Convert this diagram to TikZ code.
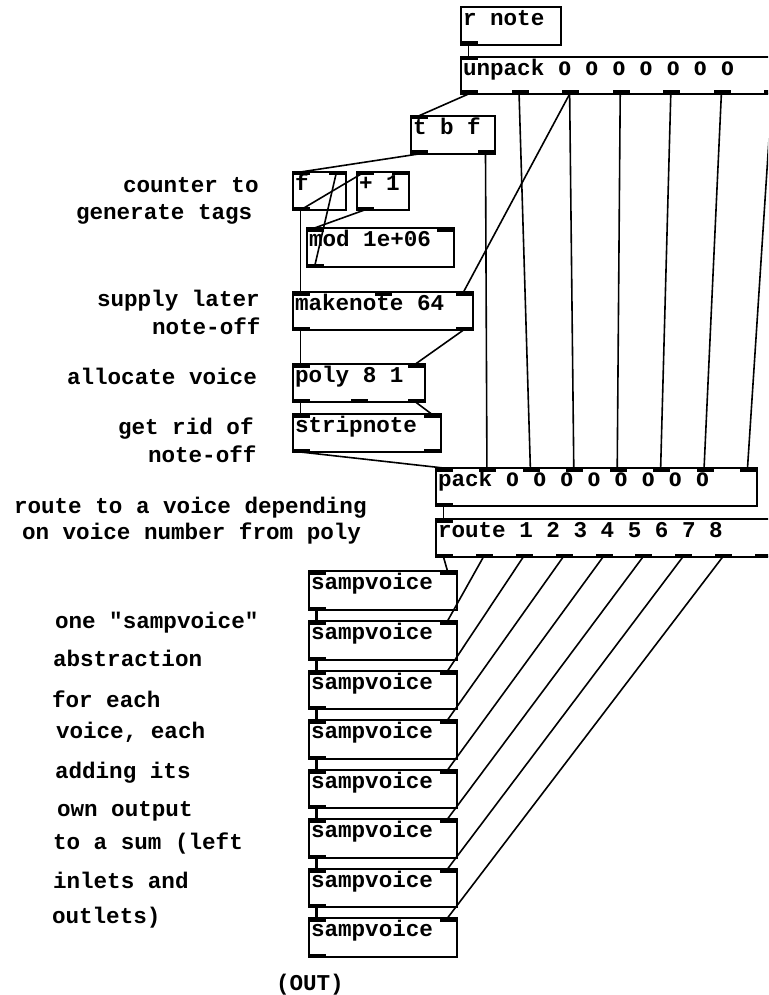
\documentclass[tikz,border=0pt]{standalone}
\usepackage{fontspec}
\newfontfamily\pdfont{Liberation Mono}
\newfontfamily\zerofont{DejaVu Sans}
\newcommand\zz{\makebox[0.6em]{\zerofont\bfseries\fontsize{18.5}{20}\selectfont 0}}
\tikzset{
  x=1pt, y=-1pt,
  pdbox/.style={draw, line width=1.7pt, inner sep=0pt, outer sep=0pt},
  pdtext/.style={inner sep=0pt, outer sep=0pt, font=\pdfont\bfseries\fontsize{22.6}{26}\selectfont},
  pdline/.style={line width=1.6pt},
  sigline/.style={line width=3.6pt},
}
% name, x1, y1, x2, y2, text, inlets, outlets
\newcommand\pdbox[8]{%
  \node[pdbox, anchor=north west, minimum width=#4pt-#2pt, minimum height=#5pt-#3pt] (#1) at (#2,#3) {};
  \node[pdtext, anchor=base west] (#1-t) at ([shift={(2,18.8)}]#1.north west) {#6};
  \ifnum#7>0
    \foreach \k in {1,...,#7}{%
      \pgfmathsetmacro\px{#2+(\k-1)*(#4-#2-17)/max(#7-1,1)}%
      \fill (\px,#3) rectangle ++(17,3.5);
      \coordinate (#1-i\k) at (\px+7.5,#3);
    }%
  \fi
  \ifnum#8>0
    \foreach \k in {1,...,#8}{%
      \pgfmathsetmacro\px{#2+(\k-1)*(#4-#2-17)/max(#8-1,1)}%
      \fill (\px,#5) rectangle ++(17,-3.5);
      \coordinate (#1-o\k) at (\px+7.5,#5);
    }%
  \fi
}
\begin{document}
\begin{tikzpicture}
\useasboundingbox (0,0) rectangle (768,995);
\clip (0,0) rectangle (768,995);
\fill[white] (0,0) rectangle (768,995);

% boxes
\pdbox{rnote}{461}{7}{561}{45}{r note}{0}{1}
\pdbox{unpack}{461}{57}{832}{94}{unpack \zz{} \zz{} \zz{} \zz{} \zz{} \zz{} \zz}{1}{8}
\pdbox{tbf}{411}{116}{495}{154}{t b f}{1}{2}
\pdbox{f}{293}{172}{346}{210}{f}{2}{1}
\pdbox{plus}{357}{172}{409}{210}{+ 1}{2}{1}
\pdbox{mod}{307}{228}{454}{267}{mod 1e+06}{2}{1}
\pdbox{makenote}{293}{292}{473}{330}{makenote 64}{3}{2}
\pdbox{poly}{293}{364}{425}{402}{poly 8 1}{2}{3}
\pdbox{strip}{293}{414}{441}{452}{stripnote}{2}{2}
\pdbox{pack}{436}{468}{757}{506}{pack \zz{} \zz{} \zz{} \zz{} \zz{} \zz{} \zz{} \zz}{8}{1}
\pdbox{route}{436}{519}{772}{557}{route 1 2 3 4 5 6 7 8}{1}{9}
\pdbox{sv1}{309}{571}{457}{610}{sampvoice}{2}{1}
\pdbox{sv2}{309}{621}{457}{660}{sampvoice}{2}{1}
\pdbox{sv3}{309}{671}{457}{709}{sampvoice}{2}{1}
\pdbox{sv4}{309}{720}{457}{759}{sampvoice}{2}{1}
\pdbox{sv5}{309}{770}{457}{808}{sampvoice}{2}{1}
\pdbox{sv6}{309}{819}{457}{858}{sampvoice}{2}{1}
\pdbox{sv7}{309}{869}{457}{907}{sampvoice}{2}{1}
\pdbox{sv8}{309}{918}{457}{957}{sampvoice}{2}{1}

% connections
\draw[pdline] (rnote-o1) -- (unpack-i1);
\draw[pdline] (unpack-o1) -- (tbf-i1);
\draw[pdline] (unpack-o2) -- (pack-i3);
\draw[pdline] (unpack-o3) -- (makenote-i3);
\draw[pdline] (unpack-o3) -- (pack-i4);
\draw[pdline] (unpack-o4) -- (pack-i5);
\draw[pdline] (unpack-o5) -- (pack-i6);
\draw[pdline] (unpack-o6) -- (pack-i7);
\draw[pdline] (unpack-o7) -- (pack-i8);
\draw[pdline] (tbf-o1) -- (f-i1);
\draw[pdline] (tbf-o2) -- (pack-i2);
\draw[pdline] (f-o1) -- (plus-i1);
\draw[pdline] (f-o1) -- (makenote-i1);
\draw[pdline] (plus-o1) -- (mod-i1);
\draw[pdline] (mod-o1) -- (f-i2);
\draw[pdline] (makenote-o1) -- (poly-i1);
\draw[pdline] (makenote-o2) -- (poly-i2);
\draw[pdline] (poly-o1) -- (strip-i1);
\draw[pdline] (poly-o3) -- (strip-i2);
\draw[pdline] (strip-o1) -- (pack-i1);
\draw[pdline] (pack-o1) -- (route-i1);
\foreach \k in {1,...,8}{\draw[pdline] (route-o\k) -- (sv\k-i2);}
\foreach \k/\n in {1/2,2/3,3/4,4/5,5/6,6/7,7/8}{\draw[sigline] (sv\k-o1) -- (sv\n-i1);}

% comments
\node[pdtext, anchor=base west] (c1) at (123,193) {counter to};
\node[pdtext, anchor=base west] (c2) at (76,219) {generate tags};
\node[pdtext, anchor=base west] (c3) at (97,306) {supply later};
\node[pdtext, anchor=base west] (c4) at (152,334) {note-off};
\node[pdtext, anchor=base west] (c5) at (67,384) {allocate voice};
\node[pdtext, anchor=base west] (c6) at (118,434) {get rid of};
\node[pdtext, anchor=base west] (c7) at (148,462) {note-off};
\node[pdtext, anchor=base west] (c8) at (14,513) {route to a voice depending};
\node[pdtext, anchor=base west] (c9) at (22,539) {on voice number from poly};
\node[pdtext, anchor=base west] (d1) at (55,628) {one "sampvoice"};
\node[pdtext, anchor=base west] (d2) at (53,666) {abstraction};
\node[pdtext, anchor=base west] (d3) at (52,707) {for each};
\node[pdtext, anchor=base west] (d4) at (56,738) {voice, each};
\node[pdtext, anchor=base west] (d5) at (55,778) {adding its};
\node[pdtext, anchor=base west] (d6) at (57,816) {own output};
\node[pdtext, anchor=base west] (d7) at (53,849) {to a sum (left};
\node[pdtext, anchor=base west] (d8) at (53,888) {inlets and};
\node[pdtext, anchor=base west] (d9) at (52,923) {outlets)};
\node[pdtext, anchor=base west] (out) at (276,990) {(OUT)};
\end{tikzpicture}
\end{document}
